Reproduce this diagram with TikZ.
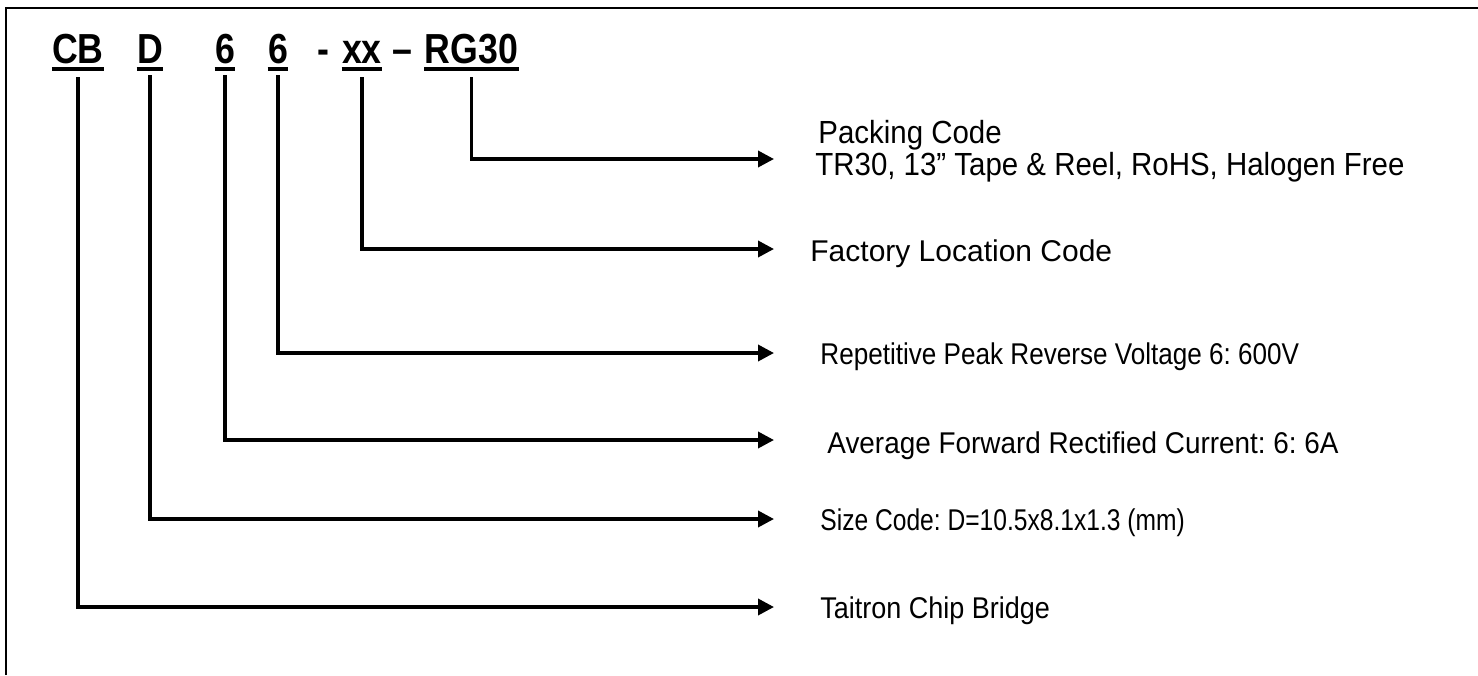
\documentclass[tikz,border=0pt]{standalone}
\usepackage{fontspec}
\setmainfont{Liberation Sans}
\newfontfamily\codefont[FakeStretch=0.85]{Liberation Sans}
\newfontfamily\packfont[FakeStretch=0.92]{Liberation Sans}
\usetikzlibrary{arrows.meta}
\frenchspacing

\tikzset{
  code/.style={font=\codefont\fontsize{21pt}{23pt}\selectfont\bfseries, inner sep=0pt, anchor=base},
  note/.style={font=\fontsize{15pt}{17pt}\selectfont, inner sep=0pt, anchor=base west},
  packnote/.style={font=\packfont\fontsize{16pt}{18pt}\selectfont, inner sep=0pt, anchor=base west},
  lead/.style={line width=1.8pt, -{Triangle[length=8pt,width=8pt]}},
  uline/.style={line width=2pt},
}

\begin{document}
\begin{tikzpicture}[x=0.5pt,y=-0.5pt]
\useasboundingbox (0,0) rectangle (1478,675);

% FRAME
\draw[line width=1.2pt] (6,675) -- (6,8) -- (1478,8);

% PART NUMBER
\node[code] (cb)   at (78,63)    {CB};
\node[code] (d)    at (150,63)   {D};
\node[code] (sixa) at (225,63)   {6};
\node[code] (sixb) at (278,63)   {6};
\node[code] (dash) at (323.5,63) {-};
\node[code] (xx)   at (362,63)   {xx};
\node[code] (ndash) at (402.5,63) {\textendash};
\node[code] (rg)   at (471.5,63) {RG30};

\foreach \n in {cb,d,sixa,sixb,xx,rg}
  \draw[uline] ([yshift=-3pt]\n.base west) -- ([yshift=-3pt]\n.base east);

% NOTES
\node[packnote] (pack)    at (818,143) {Packing Code};
\node[packnote] (packing) at (815,175) {TR30, 13” Tape \& Reel, RoHS, Halogen Free};
\node[note] (factory) at (810,261) {Factory Location Code};
\node[note] (voltage) at (820,364) {\scalebox{0.87}[1]{Repetitive Peak Reverse Voltage 6: 600V}};
\node[note] (current) at (827,453) {\scalebox{0.93}[1]{Average Forward Rectified Current: 6: 6A}};
\node[note] (size)    at (820,530) {\scalebox{0.82}[1]{Size Code: D=10.5x8.1x1.3 (mm)}};
\node[note] (bridge)  at (820,618) {\scalebox{0.9}[1]{Taitron Chip Bridge}};

% ARROWS
\coordinate (tpack)    at (774,159);
\coordinate (tfactory) at (774,249);
\coordinate (tvoltage) at (774,353);
\coordinate (tcurrent) at (774,440);
\coordinate (tsize)    at (774,519);
\coordinate (tbridge)  at (774,607);

\draw[lead] ([yshift=-7pt]rg.base)   |- (tpack);
\draw[lead] ([yshift=-7pt]xx.base)   |- (tfactory);
\draw[lead] ([yshift=-6pt]sixb.base) |- (tvoltage);
\draw[lead] ([yshift=-6pt]sixa.base) |- (tcurrent);
\draw[lead] ([yshift=-6pt]d.base)    |- (tsize);
\draw[lead] ([yshift=-7pt]cb.base)   |- (tbridge);

\end{tikzpicture}
\end{document}
